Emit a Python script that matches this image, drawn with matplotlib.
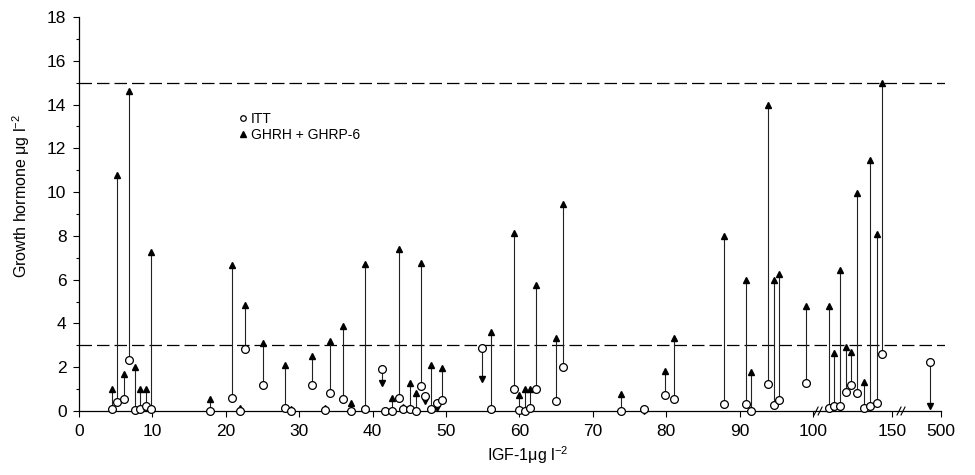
import numpy as np
import matplotlib
matplotlib.use('Agg')
import matplotlib.pyplot as plt
from matplotlib.lines import Line2D

plt.rcParams['font.family'] = ['Liberation Sans', 'DejaVu Sans']
plt.rcParams['mathtext.fontset'] = 'custom'
plt.rcParams['mathtext.rm'] = 'Liberation Sans'
plt.rcParams['mathtext.it'] = 'Liberation Sans:italic'
plt.rcParams['mathtext.bf'] = 'Liberation Sans:bold'

# IGF-1 of each subject and peak GH after ITT and after GHRH + GHRP-6
igf1 = [4.5, 5.2, 6.1, 6.8, 7.6, 8.35, 9.1, 9.8,
        17.9, 20.8, 21.9, 22.6, 25.0, 28.0, 28.9, 31.8, 33.5, 34.2, 36.0, 37.0, 38.9,
        41.3, 41.7, 42.6, 43.6, 44.2, 45.1, 45.9, 46.6, 47.2, 47.9, 48.8, 49.5,
        54.9, 56.1, 59.2, 59.9, 60.8, 61.5, 62.3, 65.0, 65.9,
        73.9, 77.0, 79.9, 81.0, 87.9, 90.9, 91.6, 93.9, 94.7, 95.4, 99.0,
        109.9, 113.3, 117.1, 120.7, 124.1, 127.7, 132.1, 136.3, 140.3, 143.9, 486]
gh_itt = [0.1, 0.4, 0.55, 2.35, 0.05, 0.1, 0.23, 0.1,
          0.0, 0.58, 0.0, 2.82, 1.17, 0.14, 0.0, 1.19, 0.05, 0.8, 0.53, 0.0, 0.08,
          1.9, 0.0, 0.0, 0.58, 0.1, 0.1, 0.0, 1.14, 0.7, 0.1, 0.37, 0.5,
          2.89, 0.1, 0.99, 0.05, 0.0, 0.15, 0.99, 0.47, 2.02,
          0.0, 0.1, 0.73, 0.53, 0.32, 0.32, 0.0, 1.22, 0.27, 0.5, 1.28,
          0.15, 0.23, 0.21, 0.88, 1.17, 0.81, 0.15, 0.23, 0.35, 2.59, 2.24]
gh_ghrh = [1.0, 10.8, 1.7, 14.6, 2.0, 1.0, 1.0, 7.25,
           0.55, 6.65, 0.15, 4.85, 3.1, 2.1, 0.1, 2.5, 0.15, 3.2, 3.9, 0.38, 6.7,
           1.26, 0.05, 0.58, 7.4, 0.2, 1.26, 0.84, 6.75, 0.45, 2.1, 0.12, 1.95,
           1.45, 3.6, 8.15, 0.73, 0.99, 0.99, 5.75, 3.35, 9.45,
           0.76, 0.0, 1.84, 3.33, 8.0, 6.0, 1.8, 14.0, 6.0, 6.25, 4.8,
           4.8, 2.66, 6.45, 2.94, 2.69, 9.95, 1.34, 11.45, 8.1, 15.0, 0.23]
cutoffs = [3, 15]
xticks = [0, 10, 20, 30, 40, 50, 60, 70, 80, 90, 100, 150, 500]
breaks = [104.5, 340]

# piecewise axis: linear to 100, compressed 100-150, broken up to 500
brk_x = [0, 100, 150, 460, 500, 520]
brk_u = [0, 734, 813, 831, 862, 877.5]


def fwd(x):
    return np.interp(x, brk_x, brk_u)


def inv(u):
    return np.interp(u, brk_u, brk_x)


x = np.array(igf1)
itt = np.array(gh_itt)
ghrh = np.array(gh_ghrh)

fig = plt.figure(figsize=(9.75, 4.75), dpi=100)
ax = fig.add_axes([79 / 975, 64 / 475, 866 / 975, 394 / 475])
ax.set_xscale('function', functions=(fwd, inv))
ax.set_xlim(0, inv(866))
ax.set_ylim(0, 18)

for c in cutoffs:
    ax.axhline(c, color='black', lw=0.9, dashes=(10, 4), zorder=1)

ax.vlines(x, itt, ghrh, color='#222222', lw=0.8, zorder=2)
up = ghrh >= itt
ax.plot(x[up], ghrh[up], '^', ms=4.3, color='black', zorder=3, clip_on=False)
ax.plot(x[~up], ghrh[~up], 'v', ms=4.3, color='black', zorder=3, clip_on=False)
ax.plot(x, itt, 'o', ms=5.6, mfc='white', mec='black', mew=0.9, zorder=4, clip_on=False)

# axis break marks
for b in breaks:
    for dx in (-4, 0):
        u0 = fwd(b) + dx
        ax.plot(inv([u0 - 2, u0 + 2]), [-0.18, 0.18], color='black', lw=0.8,
                clip_on=False, zorder=5)

ax.spines['top'].set_visible(False)
ax.spines['right'].set_visible(False)
ax.spines['bottom'].set_bounds(0, 500)
ax.spines['left'].set_linewidth(0.9)
ax.spines['bottom'].set_linewidth(0.9)

ax.set_xticks(xticks)
ax.set_xticklabels([str(t) for t in xticks])
ax.set_yticks(range(0, 19, 2))
ax.set_yticks(range(1, 18, 2), minor=True)
ax.xaxis.set_minor_locator(plt.NullLocator())
ax.tick_params(axis='both', which='major', labelsize=12.5, length=4, width=0.8, pad=5)
ax.tick_params(axis='y', which='minor', length=2.5, width=0.8)

ax.set_xlabel('IGF-1\u03bcg l$^{-2}$', fontsize=11.5)
ax.xaxis.set_label_coords(0.518, -0.085)
ax.set_ylabel('Growth hormone \u03bcg l$^{-2}$', fontsize=11.5)
ax.yaxis.set_label_coords(-0.054, 0.546)

handles = [Line2D([], [], ls='none', marker='o', ms=4, mfc='white', mec='black', mew=0.9),
           Line2D([], [], ls='none', marker='^', ms=4, color='black')]
ax.legend(handles, ['ITT', 'GHRH + GHRP-6'], loc='upper left',
          bbox_to_anchor=(0.17, 0.79), frameon=False, fontsize=10,
          handlelength=0.6, handletextpad=0.3, labelspacing=0.15)

fig.savefig('out.png', dpi=100)
